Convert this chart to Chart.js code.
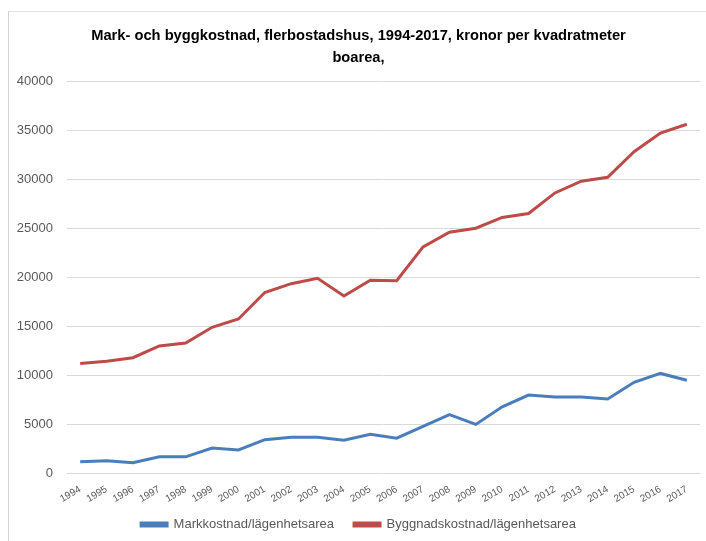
<!DOCTYPE html>
<html>
<head>
<meta charset="utf-8">
<script src="https://cdn.jsdelivr.net/npm/chart.js@4"></script>
<style>
  body { margin: 0; background: #fff; }
  #wrap { width: 706px; height: 541px; }
</style>
</head>
<body>
<div id="wrap"><canvas id="kostnadChart" width="706" height="541"></canvas></div>
<script>
// År och serier (kronor per kvm boarea)
const years = ['1994', '1995', '1996', '1997', '1998', '1999', '2000', '2001', '2002', '2003', '2004', '2005',
  '2006', '2007', '2008', '2009', '2010', '2011', '2012', '2013', '2014', '2015', '2016', '2017'];
const markkostnad = [1200, 1300, 1100, 1700, 1700, 2600, 2400, 3450, 3700, 3700, 3400, 4000,
  3600, 4800, 6000, 5000, 6800, 8000, 7800, 7800, 7600, 9300, 10200, 9500];
const byggkostnad = [11200, 11450, 11800, 13000, 13300, 14900, 15750, 18450, 19350, 19900, 18100, 19700,
  19650, 23100, 24600, 25000, 26100, 26500, 28600, 29800, 30200, 32800, 34700, 35600];
const yTicks = [0, 5000, 10000, 15000, 20000, 25000, 30000, 35000, 40000];

// Ljusgrå ram runt diagrammet (som i Excel)
const ramPlugin = {
  id: 'ram',
  afterLayout(chart) {
    // förklaringen lite närmare årtalen
    chart.legend.top -= 9;
    chart.legend.bottom -= 9;
  },
  beforeDraw(chart) {
    const ctx = chart.ctx;
    ctx.save();
    ctx.lineWidth = 1;
    ctx.strokeStyle = '#e3e3e3';
    ctx.beginPath();
    ctx.moveTo(8, 11.5);
    ctx.lineTo(chart.width, 11.5);
    ctx.stroke();
    ctx.strokeStyle = '#d4d4d4';
    ctx.beginPath();
    ctx.moveTo(8.5, 11);
    ctx.lineTo(8.5, chart.height);
    ctx.stroke();
    ctx.restore();
  }
};

const ctx = document.getElementById('kostnadChart').getContext('2d');
new Chart(ctx, {
  type: 'line',
  data: {
    labels: years,
    datasets: [{
      label: 'Markkostnad/lägenhetsarea',
      data: markkostnad,
      borderColor: '#4a7ebb',
      backgroundColor: '#4a7ebb',
      borderWidth: 3,
      pointRadius: 0,
      tension: 0
    }, {
      label: 'Byggnadskostnad/lägenhetsarea',
      data: byggkostnad,
      borderColor: '#be4b48',
      backgroundColor: '#be4b48',
      borderWidth: 3,
      pointRadius: 0,
      tension: 0
    }]
  },
  options: {
    responsive: false,
    animation: false,
    layout: { padding: { left: 17, right: 6, top: 17, bottom: -9 } },
    plugins: {
      title: {
        display: true,
        text: ['Mark- och byggkostnad, flerbostadshus, 1994-2017, kronor per kvadratmeter', 'boarea,'],
        color: '#000',
        font: { family: '"Liberation Sans", Arial, sans-serif', size: 14.7, weight: 'bold', lineHeight: 1.5 },
        padding: { top: 8, bottom: 12 }
      },
      legend: {
        position: 'bottom',
        labels: {
          boxWidth: 26,
          boxHeight: 3,
          padding: 20,
          color: '#595959',
          font: { family: '"Liberation Sans", Arial, sans-serif', size: 13 }
        }
      },
      tooltip: { enabled: false }
    },
    scales: {
      x: {
        offset: true,
        grid: { display: false },
        border: { display: false },
        afterFit(axis) {
          axis.paddingLeft = 0;
        },
        ticks: {
          color: '#595959',
          font: { family: '"Liberation Sans", Arial, sans-serif', size: 10 },
          minRotation: 30,
          maxRotation: 30,
          autoSkip: false,
          padding: 2
        }
      },
      y: {
        min: 0,
        max: 40000,
        afterBuildTicks(axis) {
          axis.ticks = yTicks.map(v => ({ value: v }));
        },
        afterFit(axis) {
          axis.width = 50;
        },
        grid: { color: '#d9d9d9', lineWidth: 1, drawTicks: false },
        border: { display: false },
        ticks: {
          color: '#595959',
          padding: 14,
          font: { family: '"Liberation Sans", Arial, sans-serif', size: 13 },
          callback: v => String(v)
        }
      }
    }
  },
  plugins: [ramPlugin]
});
</script>
</body>
</html>
